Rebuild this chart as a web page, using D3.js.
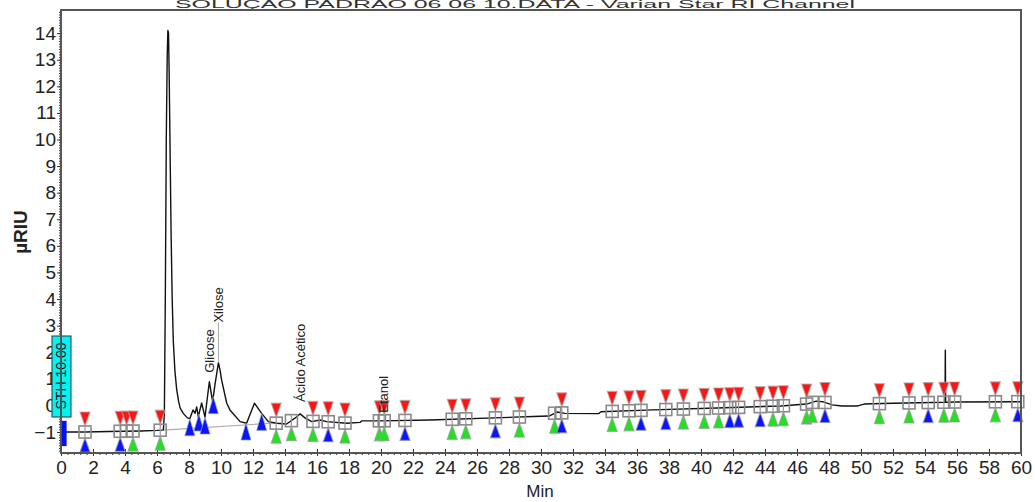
<!DOCTYPE html>
<html>
<head>
<meta charset="utf-8">
<script src="https://cdn.jsdelivr.net/npm/d3@7"></script>
<style>
  html, body { margin: 0; padding: 0; background: #fff; }
  svg { display: block; font-family: Arial, "Liberation Sans", sans-serif; }
</style>
</head>
<body>
<svg id="chart" width="1035" height="502"></svg>
<script>
// Chromatogram trace (time in min, signal in µRIU)
const traceTime = [0, 1.5, 3.0, 4.0, 5.0, 6.0, 6.3, 6.40, 6.46, 6.52, 6.58, 6.64, 6.68, 6.72, 6.76, 6.82, 6.88, 6.95, 7.02, 7.12, 7.23, 7.35, 7.45, 7.64, 7.90, 8.05,
  8.25, 8.38, 8.48, 8.58, 8.79, 9.00, 9.27, 9.46, 9.52, 9.62, 9.84, 9.94, 10.04, 10.36, 10.56, 11.19, 11.60, 12.09, 12.54, 12.96, 13.48, 14.10, 14.62, 14.94, 15.25,
  15.67, 16.19, 16.60, 17.86, 18.69, 18.80, 19.94, 23.06, 29.50, 30.50, 31.00, 31.50, 33.60, 33.75, 37.0, 41.0, 45.0, 46.6, 47.2, 47.6, 48.2, 48.8, 49.8, 50.2,
  52.0, 55.25, 55.27, 55.29, 56.0, 60.0];
const traceValue = [-1.0, -1.0, -0.98, -0.97, -0.96, -0.94, -0.93, -0.92, -0.3, 4.0, 10.0, 13.2, 14.1, 14.0, 12.5, 9.5, 6.5, 4.0, 2.4, 1.3, 0.6, 0.15, -0.1, -0.3, -0.47, -0.5,
  -0.17, -0.3, -0.06, -0.42, 0.09, -0.44, 0.89, 0.2, 0.33, 0.77, 1.61, 1.33, 0.95, 0.08, -0.17, -0.61, -0.67, 0.08, -0.3, -0.61, -0.67, -0.7, -0.48, -0.32, -0.47,
  -0.61, -0.55, -0.61, -0.67, -0.64, -0.58, -0.58, -0.55, -0.42, -0.40, -0.25, -0.30, -0.31, -0.24, -0.17, -0.10, -0.02, 0.05, 0.16, 0.14, 0.02, -0.02, -0.02, 0.05,
  0.08, 0.12, 2.08, 0.12, 0.13, 0.14];

// Integration baseline drawn under the first peak group
const baselineTime = [6.40, 13.45];
const baselineValue = [-0.93, -0.66];

// Named peaks
const peakNames = ["Glicose", "Xilose", "Ácido Acético", "Etanol"];
const peakTimes = [9.27, 9.84, 14.94, 20.1];
const peakLabelGap = [9, 40, 12, 8];

// Valley markers (blue)
const valleyTimes = [8.05, 8.62, 9.00, 9.52, 11.56, 12.54];

// Peak event markers: time, start marker shown, end marker colour
const eventTimes = [1.5, 3.7, 4.1, 4.5, 6.2, 13.45, 14.4, 15.75, 16.7, 17.75, 19.9, 20.2, 21.5, 24.45, 25.3, 27.15, 28.65, 30.85, 31.3,
  34.45, 35.5, 36.25, 37.8, 38.9, 40.2, 41.1, 41.8, 42.35, 43.7, 44.5, 45.15, 46.6, 46.95, 47.75, 51.15, 53.0, 54.2, 55.18, 55.85, 58.4, 59.8];
const eventStart = [1, 1, 1, 1, 1, 1, 0, 1, 1, 1, 1, 1, 1, 1, 1, 1, 1, 0, 1,
  1, 1, 1, 1, 1, 1, 1, 1, 1, 1, 1, 1, 1, 0, 1, 1, 1, 1, 1, 1, 1, 1];
const eventEnd = ["b", "b", "", "g", "g", "g", "g", "g", "b", "g", "g", "g", "b", "g", "g", "b", "g", "g", "b",
  "g", "g", "b", "b", "g", "g", "g", "b", "b", "b", "g", "g", "g", "g", "b", "g", "g", "b", "g", "g", "g", "b"];

// Axis ticks
const xTicks = d3.range(0, 61, 2);
const yTicks = [-1, 0, 1, 2, 3, 4, 5, 6, 7, 8, 9, 10, 11, 12, 13, 14];

// Sensitivity annotation and event bar at the start of the run
const sthText = "STH 10.00";
const sthRange = [0.0, 0.35, -0.58, -1.53]; // t0, t1, v0, v1

const titleText = "SOLUÇÃO PADRÃO 06 06 10.DATA - Varian Star RI Channel";

const svg = d3.select("#chart");
const x = d3.scaleLinear().domain([0, 60]).range([61, 1021]);
const y = d3.scaleLinear().domain([-1.79, 14.87]).range([453, 10]);

const valueAt = t => {
  const i = d3.bisectRight(traceTime, t);
  if (i <= 0) return traceValue[0];
  if (i >= traceTime.length) return traceValue[traceValue.length - 1];
  const t0 = traceTime[i - 1], t1 = traceTime[i];
  const f = (t - t0) / (t1 - t0);
  return traceValue[i - 1] + f * (traceValue[i] - traceValue[i - 1]);
};

// Title above the frame
svg.append("text")
  .attr("x", 515).attr("y", 8)
  .attr("text-anchor", "middle")
  .attr("font-size", 10)
  .attr("fill", "#333")
  .attr("textLength", 680)
  .attr("lengthAdjust", "spacingAndGlyphs")
  .text(titleText);

// Minor ticks
const gMinor = svg.append("g");
gMinor.append("g").attr("transform", `translate(0,${y.range()[0]})`)
  .call(d3.axisBottom(x).tickValues(d3.range(0, 60.01, 0.4)).tickSize(2).tickFormat(""))
  .call(g => g.select(".domain").remove())
  .selectAll("line").attr("stroke", "#333");
gMinor.append("g").attr("transform", `translate(${x.range()[0]},0)`)
  .call(d3.axisLeft(y).tickValues(d3.range(-17, 149, 1).map(d => d / 10)).tickSize(2).tickFormat(""))
  .call(g => g.select(".domain").remove())
  .selectAll("line").attr("stroke", "#333");

// Major axes
const gx = svg.append("g").attr("transform", `translate(0,${y.range()[0]})`)
  .call(d3.axisBottom(x).tickValues(xTicks).tickSizeInner(-4).tickSizeOuter(0).tickFormat(d3.format("d")));
gx.select(".domain").remove();
gx.selectAll("line").attr("stroke", "#333").attr("y2", -4).attr("y1", 3);
gx.selectAll("text").attr("y", 8).attr("dy", "0.71em")
  .attr("font-size", 19).attr("fill", "#222").attr("font-family", "Arial, 'Liberation Sans', sans-serif");

const gy = svg.append("g").attr("transform", `translate(${x.range()[0]},0)`)
  .call(d3.axisLeft(y).tickValues(yTicks).tickSizeInner(4).tickSizeOuter(0).tickPadding(1).tickFormat(d3.format("d")));
gy.select(".domain").remove();
gy.selectAll("line").attr("stroke", "#333");
gy.selectAll("text").attr("font-size", 19).attr("fill", "#222").attr("font-family", "Arial, 'Liberation Sans', sans-serif");

// Axis titles
svg.append("text").attr("x", 540).attr("y", 497).attr("text-anchor", "middle")
  .attr("font-size", 17).attr("fill", "#222").text("Min");
svg.append("text").attr("transform", "translate(27,232) rotate(-90)").attr("text-anchor", "middle")
  .attr("font-size", 19).attr("font-weight", "bold").attr("fill", "#222").text("µRIU");

// Integration baseline
svg.append("line")
  .attr("x1", x(baselineTime[0])).attr("y1", y(baselineValue[0]))
  .attr("x2", x(baselineTime[1])).attr("y2", y(baselineValue[1]))
  .attr("stroke", "#aaa").attr("stroke-width", 1.2);

// Trace
const traceData = traceTime.map((t, i) => [t, traceValue[i]]);
svg.append("path").datum(traceData)
  .attr("fill", "none").attr("stroke", "#111").attr("stroke-width", 1.4)
  .attr("stroke-linejoin", "round")
  .attr("d", d3.line().x(d => x(d[0])).y(d => y(d[1])));

// Triangle path helpers
const triUp = (cx, tipY, h, w) => `M${cx},${tipY}L${cx + w / 2},${tipY + h}L${cx - w / 2},${tipY + h}Z`;
const triDown = (cx, tipY, h, w) => `M${cx},${tipY}L${cx + w / 2},${tipY - h}L${cx - w / 2},${tipY - h}Z`;
const colors = { r: "#ff1414", g: "#1fe31f", b: "#0a14ff" };

// Valley markers
svg.append("g").selectAll("path").data(valleyTimes).join("path")
  .attr("d", t => triUp(x(t), y(valueAt(t)), 17, 10))
  .attr("fill", colors.b).attr("stroke", "#9aa").attr("stroke-width", 1).attr("stroke-opacity", 0.7);

// Event markers
const events = eventTimes.map((t, i) => ({ t, start: eventStart[i], end: eventEnd[i] }));
const gEv = svg.append("g");
events.forEach(ev => {
  const cx = x(ev.t), cy = y(valueAt(ev.t));
  if (ev.start) {
    gEv.append("path").attr("d", triDown(cx, cy - 6, 14, 10))
      .attr("fill", colors.r).attr("stroke", "#aaa").attr("stroke-width", 1.2).attr("stroke-opacity", 0.7);
  }
  if (ev.end) {
    gEv.append("path").attr("d", triUp(cx, cy + 6, 14, 10))
      .attr("fill", colors[ev.end]).attr("stroke", "#999").attr("stroke-width", 1.2).attr("stroke-opacity", 0.7);
  }
  gEv.append("rect").attr("x", cx - 6).attr("y", cy - 6).attr("width", 12).attr("height", 12)
    .attr("fill", "none").attr("stroke", "#8a8a8a").attr("stroke-width", 1.6);
  gEv.append("line").attr("x1", cx).attr("x2", cx).attr("y1", cy - 6).attr("y2", cy + 6)
    .attr("stroke", "#9a9a9a").attr("stroke-width", 1.2);
});

// Peak labels with leader lines
peakNames.forEach((name, i) => {
  const t = peakTimes[i];
  const px = x(t), py = y(valueAt(t));
  const ly = py - peakLabelGap[i];
  if (peakLabelGap[i] > 12) {
    svg.append("line").attr("x1", px).attr("x2", px).attr("y1", py).attr("y2", ly)
      .attr("stroke", "#aaa").attr("stroke-width", 1);
  }
  svg.append("text")
    .attr("transform", `translate(${px + 5},${ly}) rotate(-90)`)
    .attr("font-size", 13).attr("fill", "#222")
    .text(name);
});

// Event bar and sensitivity box
svg.append("rect")
  .attr("x", x(sthRange[0])).attr("y", y(sthRange[2]))
  .attr("width", x(sthRange[1]) - x(sthRange[0])).attr("height", y(sthRange[3]) - y(sthRange[2]))
  .attr("fill", "#0010ff");
const sthBox = svg.append("g").attr("transform", "translate(61.5,376)");
sthBox.append("rect").attr("x", -9.5).attr("y", -40).attr("width", 19).attr("height", 81)
  .attr("fill", "#00f4f4").attr("stroke", "#333").attr("stroke-width", 1);
sthBox.append("text").attr("transform", "rotate(-90)").attr("text-anchor", "middle")
  .attr("dy", "0.35em").attr("font-size", 14).attr("fill", "#111").text(sthText);

// Plot frame
svg.append("rect")
  .attr("x", x.range()[0]).attr("y", y.range()[1])
  .attr("width", x.range()[1] - x.range()[0]).attr("height", y.range()[0] - y.range()[1])
  .attr("fill", "none").attr("stroke", "#555").attr("stroke-width", 2);
</script>
</body>
</html>
